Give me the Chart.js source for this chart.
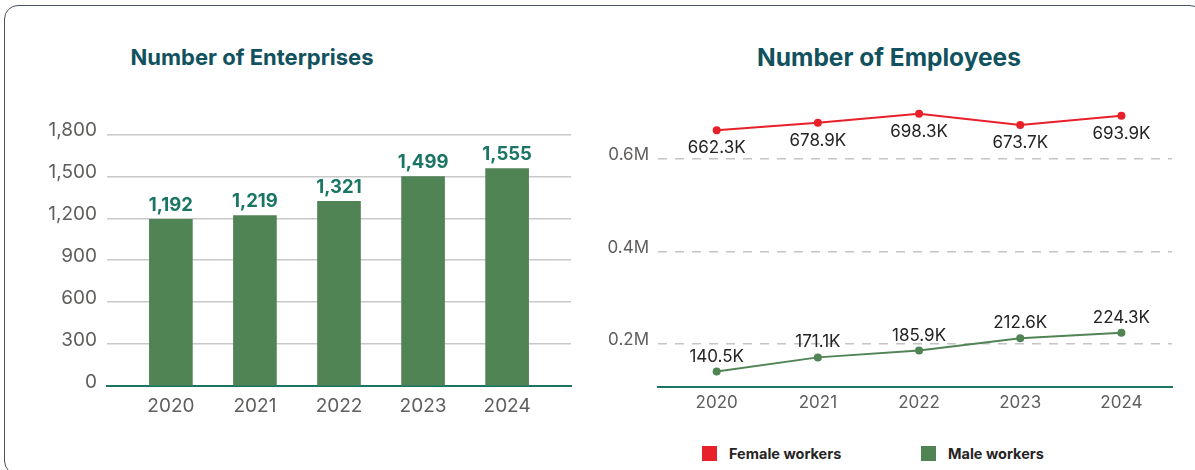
<!DOCTYPE html>
<html>
<head>
<meta charset="utf-8">
<script src="https://cdn.jsdelivr.net/npm/chart.js@4.4.1/dist/chart.umd.min.js"></script>
<style>
  body { margin: 0; width: 1195px; height: 470px; overflow: hidden; background: #fff; font-family: Inter, sans-serif; position: relative; }
  .card { position: absolute; left: 4px; top: 5px; width: 1200px; height: 470px; border: 1.5px solid #4a5260; border-radius: 14px; box-sizing: border-box; }
  .title { position: absolute; top: 43px; width: 500px; font-weight: 700; font-size: 23px; line-height: 28px; color: #11525e; text-align: center; }
  canvas { position: absolute; }
  .legend { position: absolute; top: 446px; height: 16px; line-height: 16px; font-size: 14.5px; font-weight: 700; color: #252423; }
  .legend span { display: inline-block; width: 15px; height: 15px; vertical-align: top; margin-right: 12px; }
</style>
</head>
<body>
<div class="card"></div>
<div class="title" style="left:2px;font-size:22px">Number of Enterprises</div>
<div class="title" style="left:639px;font-size:24.5px">Number of Employees</div>
<canvas id="entChart" width="590" height="317" style="left:0;top:113px"></canvas>
<canvas id="empChart" width="590" height="347" style="left:590px;top:80px"></canvas>
<div class="legend" style="left:702px"><span style="background:#e8202a"></span>Female workers</div>
<div class="legend" style="left:921px"><span style="background:#518455"></span>Male workers</div>
<script>
// data
const years = ['2020', '2021', '2022', '2023', '2024'];
const enterprises = [1192, 1219, 1321, 1499, 1555];
const entTicks = [0, 300, 600, 900, 1200, 1500, 1800];
const femaleWorkers = [662300, 678900, 698300, 673700, 693900];
const maleWorkers = [140500, 171100, 185900, 212600, 224300];
const empTicks = [200000, 400000, 600000];

const tickColor = '#605e5c';
const teal = '#1b7565';

// draws the value labels next to each bar / point
const valueLabels = {
  id: 'valueLabels',
  afterDatasetsDraw(chart) {
    const ctx = chart.ctx;
    chart.data.datasets.forEach((ds, di) => {
      const meta = chart.getDatasetMeta(di);
      meta.data.forEach((el, i) => {
        ctx.save();
        ctx.font = ds.labelFont;
        ctx.fillStyle = ds.labelColor;
        ctx.textAlign = 'center';
        ctx.textBaseline = 'middle';
        ctx.fillText(ds.labelFormat(ds.data[i].y), el.x, el.y + ds.labelOffset);
        ctx.restore();
      });
    });
  }
};

// x axis with years at integer positions
function yearAxis(min, max, height, padding, size) {
  return {
    type: 'linear',
    min: min,
    max: max,
    offset: false,
    afterBuildTicks: s => { s.ticks = years.map((y, i) => ({ value: i })); },
    afterFit: s => { s.height = height; },
    grid: { display: false, offset: false, drawTicks: false },
    border: { color: teal, width: 2 },
    ticks: {
      padding: padding,
      maxRotation: 0,
      autoSkip: false,
      color: tickColor,
      font: { family: 'Inter', size: size },
      callback: v => years[v]
    }
  };
}

new Chart(document.getElementById('entChart'), {
  type: 'bar',
  data: {
    datasets: [{
      data: enterprises.map((v, i) => ({ x: i, y: v })),
      backgroundColor: '#518455',
      barThickness: 43,
      labelFont: '700 18.5px Inter',
      labelColor: teal,
      labelOffset: -14,
      labelFormat: v => v.toLocaleString('en-US')
    }]
  },
  options: {
    responsive: false,
    animation: false,
    devicePixelRatio: 1,
    layout: { padding: { top: 20, right: 19, left: 0, bottom: 0 } },
    plugins: { legend: { display: false }, tooltip: { enabled: false } },
    scales: {
      x: yearAxis(-0.76, 4.76, 44, 9, 19),
      y: {
        min: 0,
        max: 1800,
        afterBuildTicks: s => { s.ticks = entTicks.map(v => ({ value: v })); },
        afterFit: s => { s.width = 107; },
        border: { display: false },
        grid: { color: c => c.tick && c.tick.value === 0 ? 'rgba(0,0,0,0)' : '#c8c8c8', lineWidth: 1.5, drawTicks: false },
        ticks: { padding: 10, labelOffset: -4, color: tickColor, font: { family: 'Inter', size: 19 }, callback: v => v.toLocaleString('en-US') }
      }
    }
  },
  plugins: [valueLabels]
});

const kFormat = v => (v / 1000).toFixed(1) + 'K';

new Chart(document.getElementById('empChart'), {
  type: 'line',
  data: {
    datasets: [{
      label: 'Female workers',
      data: femaleWorkers.map((v, i) => ({ x: i, y: v })),
      borderColor: '#e8202a',
      backgroundColor: '#e8202a',
      borderWidth: 2,
      pointRadius: 4,
      pointBorderWidth: 0,
      labelFont: '17px Inter',
      labelColor: '#252423',
      labelOffset: 18,
      labelFormat: kFormat
    }, {
      label: 'Male workers',
      data: maleWorkers.map((v, i) => ({ x: i, y: v })),
      borderColor: '#518455',
      backgroundColor: '#518455',
      borderWidth: 2,
      pointRadius: 4,
      pointBorderWidth: 0,
      labelFont: '17px Inter',
      labelColor: '#252423',
      labelOffset: -15,
      labelFormat: kFormat
    }]
  },
  options: {
    responsive: false,
    animation: false,
    devicePixelRatio: 1,
    layout: { padding: { top: 20, right: 8, left: 0, bottom: 0 } },
    plugins: { legend: { display: false }, tooltip: { enabled: false } },
    scales: {
      x: yearAxis(-0.58, 4.5, 40, 6, 17),
      y: {
        min: 107000,
        max: 728000,
        afterBuildTicks: s => { s.ticks = empTicks.map(v => ({ value: v })); },
        afterFit: s => { s.width = 68; },
        border: { display: false, dash: [9, 8] },
        grid: { color: '#c4c4c4', lineWidth: 1.5, drawTicks: false },
        ticks: { padding: 9, labelOffset: -4, color: tickColor, font: { family: 'Inter', size: 17 }, callback: v => (v / 1000000).toFixed(1) + 'M' }
      }
    }
  },
  plugins: [valueLabels]
});
</script>
</body>
</html>
